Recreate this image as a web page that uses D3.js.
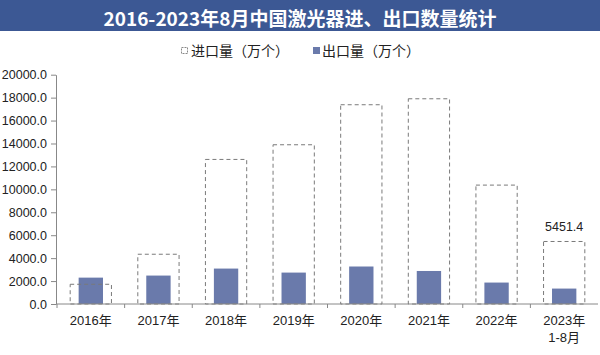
<!DOCTYPE html>
<html><head><meta charset="utf-8">
<script src="https://cdn.jsdelivr.net/npm/d3@7"></script>
<style>body{margin:0;background:#fff}svg{display:block}</style>
</head><body>
<svg id="c" width="600" height="355"></svg>
<script>
const categories = ["2016年","2017年","2018年","2019年","2020年","2021年","2022年","2023年\n1-8月"];
const importVals = [1720, 4340, 12610, 13890, 17380, 17900, 10370, 5451.4];
const exportVals = [2300, 2480, 3090, 2740, 3270, 2880, 1870, 1345];
const yTicks = [0,2000,4000,6000,8000,10000,12000,14000,16000,18000,20000];
const title = "2016-2023年8月中国激光器进、出口数量统计";
const seriesNames = ["进口量（万个）","出口量（万个）"];

const svg = d3.select("#c");
const font = "'Liberation Sans', Arial, sans-serif";
const cjk = "'Liberation Sans','Noto Sans CJK SC', sans-serif";

// title bar
svg.append("rect").attr("x",0).attr("y",0).attr("width",600).attr("height",31).attr("fill","#3c5894");
svg.append("text").attr("x",300).attr("y",17).attr("text-anchor","middle").attr("dominant-baseline","central")
  .attr("fill","#fff").attr("font-family","'Noto Sans CJK SC',sans-serif").attr("font-weight","bold")
  .attr("font-size",19).text(title);

const x = d3.scaleBand().domain(categories).range([57,598]);
const y = d3.scaleLinear().domain([0,20000]).range([304,74.7]);

// y axis
const ya = svg.append("g").attr("transform","translate(56,0)")
  .call(d3.axisLeft(y).tickValues(yTicks).tickFormat(d=>d3.format(".1f")(d)).tickSize(5).tickSizeOuter(0));
ya.select(".domain").attr("stroke","#888");
ya.selectAll(".tick line").attr("stroke","#888");
ya.selectAll("text").attr("font-family",font).attr("font-size",12.5).attr("fill","#222").attr("x",-9);

// bars
const impW = x.bandwidth()*0.61, expW = x.bandwidth()*0.36;
svg.append("g").selectAll("rect").data(exportVals).join("rect")
  .attr("x",(d,i)=>x(categories[i])+x.bandwidth()/2-expW/2)
  .attr("y",d=>y(d)).attr("width",expW).attr("height",d=>y(0)-y(d)).attr("fill","#6a7aab");
svg.append("g").selectAll("rect").data(importVals).join("rect")
  .attr("x",(d,i)=>x(categories[i])+x.bandwidth()/2-impW/2)
  .attr("y",d=>y(d)).attr("width",impW).attr("height",d=>y(0)-y(d))
  .attr("fill","none").attr("stroke","#7a7a7a").attr("stroke-width",1).attr("stroke-dasharray","4,3");

// label last
const li = importVals.length-1;
svg.append("text").attr("x",x(categories[li])+x.bandwidth()/2).attr("y",y(importVals[li])-10)
  .attr("text-anchor","middle").attr("font-family",font).attr("font-size",12.5).attr("fill","#222")
  .text(d3.format(".1f")(importVals[li]));

// x axis
const xa = svg.append("g").attr("transform","translate(0,304)");
xa.append("line").attr("x1",56).attr("x2",598).attr("y1",0).attr("y2",0).attr("stroke","#888");
xa.selectAll("line.t").data(categories).join("line").attr("class","t")
  .attr("x1",d=>x(d)).attr("x2",d=>x(d)).attr("y1",0).attr("y2",4).attr("stroke","#888");
xa.selectAll("text").data(categories).join("text")
  .attr("x",d=>x(d)+x.bandwidth()/2).attr("y",21).attr("text-anchor","middle")
  .attr("font-family",cjk).attr("font-size",13).attr("fill","#222")
  .each(function(d){
    const parts=d.split("\n");
    const cx = x(d)+x.bandwidth()/2;
    d3.select(this).selectAll("tspan").data(parts).join("tspan")
      .attr("x",cx).attr("dy",(p,i)=>i===0?0:17).text(p=>p);
  });

// legend
const lg = svg.append("g");
lg.append("rect").attr("x",181.5).attr("y",47.5).attr("width",6).attr("height",6)
  .attr("fill","none").attr("stroke","#888").attr("stroke-dasharray","2,1");
lg.append("text").attr("x",191).attr("y",51).attr("dominant-baseline","central")
  .attr("font-family",cjk).attr("font-size",14).attr("fill","#222").text(seriesNames[0]);
lg.append("rect").attr("x",313).attr("y",47).attr("width",7).attr("height",7).attr("fill","#6a7aab");
lg.append("text").attr("x",322).attr("y",51).attr("dominant-baseline","central")
  .attr("font-family",cjk).attr("font-size",14).attr("fill","#222").text(seriesNames[1]);
</script>
</body></html>
